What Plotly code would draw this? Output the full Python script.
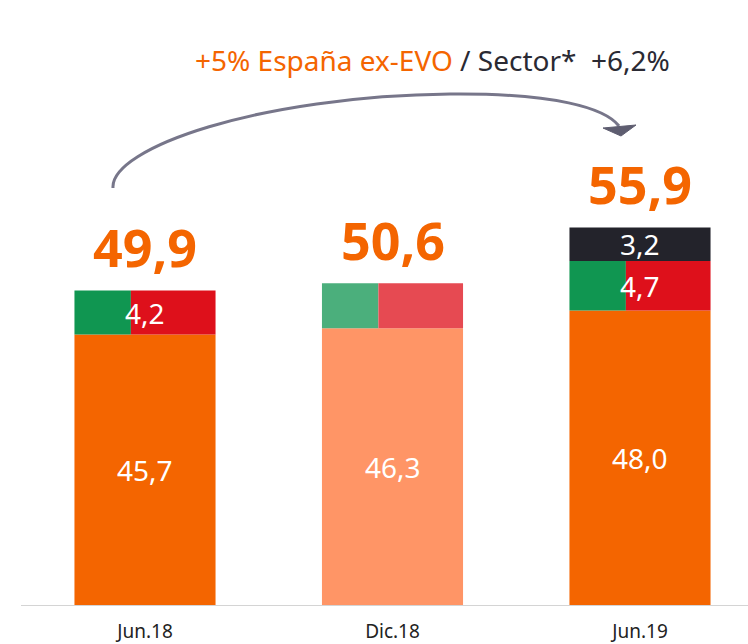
import plotly.graph_objects as go

# valores (miles de millones)
periodos = ["Jun.18", "Dic.18", "Jun.19"]
base_vals = [45.7, 46.3, 48.0]
medio_vals = [4.2, 4.3, 4.7]
medio_txt = ["4,2", "", "4,7"]
evo_vals = [None, None, 3.2]
totales = [49.9, 50.6, 55.9]

NARANJA = ["#F46500", "#FF9566", "#F46500"]
VERDE = ["#109651", "#4BAF7C", "#109651"]
ROJO = ["#DE101B", "#E64A52", "#DE101B"]
NEGRO = "#23232B"

W, H = 748, 644
BOTTOM = 38
Y0, Y1 = 19.85, 19.85 + (H - BOTTOM) / 10.5
X0, X1 = -145 / 247.5, (W - 145) / 247.5
BW = 0.57
FONT = "Noto Sans"


def fmt(v):
    return f"{v:.1f}".replace(".", ",")


def px(x):
    return x / W


def py(y):
    return (H - BOTTOM - y) / (H - BOTTOM)


xs = list(range(len(periodos)))
medio_top = [b + m for b, m in zip(base_vals, medio_vals)]

fig = go.Figure()
fig.add_trace(go.Bar(x=xs, y=base_vals, width=BW, marker=dict(color=NARANJA, line_width=0)))
fig.add_trace(go.Bar(x=xs, y=medio_vals, base=base_vals, width=BW * 0.4, offset=-BW / 2,
                     marker=dict(color=VERDE, line_width=0)))
fig.add_trace(go.Bar(x=xs, y=medio_vals, base=base_vals, width=BW * 0.6, offset=-BW / 2 + BW * 0.4,
                     marker=dict(color=ROJO, line_width=0)))
fig.add_trace(go.Bar(x=xs, y=evo_vals, base=medio_top, width=BW, marker=dict(color=NEGRO, line_width=0)))

lbl = dict(family=FONT, size=28, color="white")
for i in xs:
    fig.add_annotation(x=i, y=(Y0 + base_vals[i]) / 2, text=fmt(base_vals[i]), showarrow=False, font=lbl)
    if medio_txt[i]:
        fig.add_annotation(x=i, y=base_vals[i] + medio_vals[i] / 2, text=medio_txt[i], showarrow=False, font=lbl)
    if evo_vals[i]:
        fig.add_annotation(x=i, y=medio_top[i] + evo_vals[i] / 2, text=fmt(evo_vals[i]), showarrow=False, font=lbl)
    fig.add_annotation(x=i, y=totales[i], text=f"<b>{fmt(totales[i])}</b>", showarrow=False,
                       yanchor="bottom", yshift=6, font=dict(family=FONT, size=52, color="#F46500"))

fig.add_annotation(xref="paper", yref="paper", x=px(432), y=py(60), xanchor="center", yanchor="middle",
                   text="<span style='color:#F46500'>+5% España ex-EVO</span> / Sector*  +6,2%",
                   showarrow=False, font=dict(family=FONT, size=28, color="#2A2A33"))

# flecha curva
pts = [(113, 188), (110, 148), (260, 96), (450, 94), (555, 93), (605, 108), (619, 126)]
p = [(px(a), py(b)) for a, b in pts]
path = (f"M {p[0][0]},{p[0][1]} C {p[1][0]},{p[1][1]} {p[2][0]},{p[2][1]} {p[3][0]},{p[3][1]} "
        f"C {p[4][0]},{p[4][1]} {p[5][0]},{p[5][1]} {p[6][0]},{p[6][1]}")
fig.add_shape(type="path", xref="paper", yref="paper", path=path,
              line=dict(color="#77768A", width=3))
head = [(603, 128), (636, 125), (621, 136)]
h = [(px(a), py(b)) for a, b in head]
fig.add_shape(type="path", xref="paper", yref="paper",
              path=f"M {h[0][0]},{h[0][1]} L {h[1][0]},{h[1][1]} L {h[2][0]},{h[2][1]} Z",
              fillcolor="#5E5D70", line=dict(color="#5E5D70", width=1))

# línea base
fig.add_shape(type="line", xref="paper", yref="y", x0=px(21), x1=1, y0=Y0, y1=Y0,
              line=dict(color="#D4D4D4", width=2))

fig.update_layout(
    width=W, height=H, barmode="overlay", showlegend=False,
    margin=dict(l=0, r=0, t=0, b=BOTTOM),
    paper_bgcolor="white", plot_bgcolor="white",
    xaxis=dict(range=[X0, X1], tickvals=xs, ticktext=periodos, showgrid=False, zeroline=False,
               showline=False, ticks="", automargin=False, ticklabelstandoff=12,
               tickfont=dict(family=FONT, size=19, color="#222222")),
    yaxis=dict(range=[Y0, Y1], visible=False, showgrid=False, zeroline=False),
)

fig.write_html("out.html", config={"displayModeBar": False},
               post_script="document.body.style.margin='0';")
